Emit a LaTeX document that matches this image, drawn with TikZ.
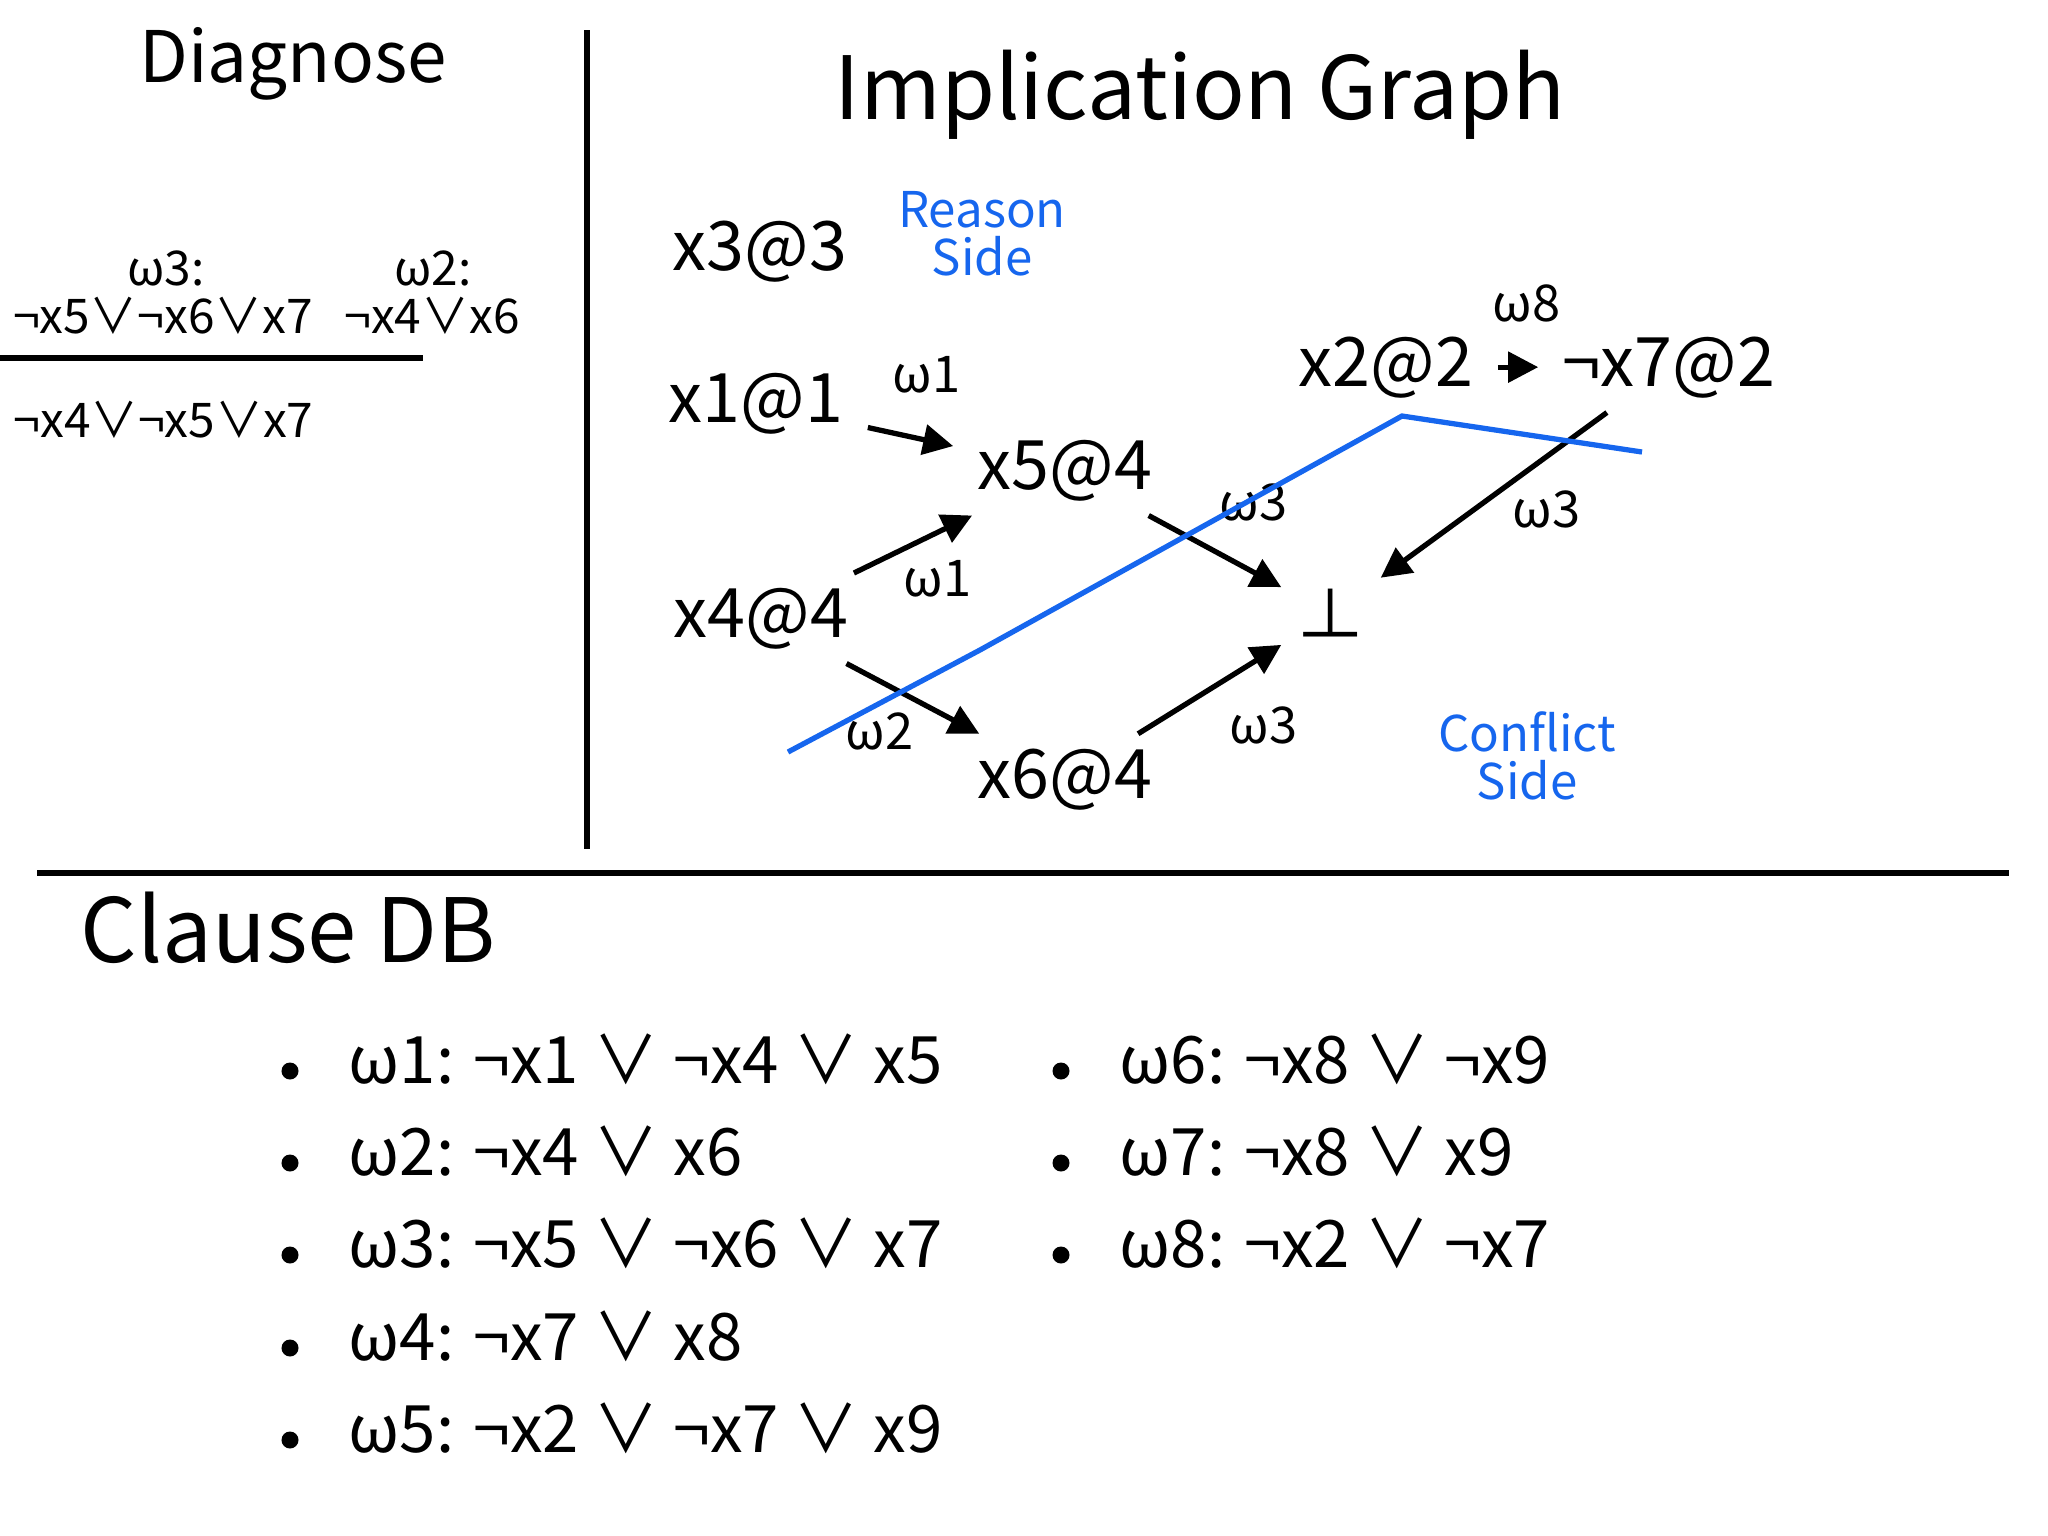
\documentclass[tikz,border=0pt]{standalone}
\usepackage{fontspec}
\setmainfont{Noto Sans CJK JP}
\usetikzlibrary{arrows.meta}
\definecolor{cutblue}{RGB}{22,102,238}
\begin{document}
\begin{tikzpicture}
	[x=0.01cm,y=-0.01cm,
	lit/.style={anchor=base,inner xsep=0.24cm,inner ysep=0.14cm,font=\fontsize{19.4}{23}\selectfont},
	wlab/.style={anchor=base west,inner sep=0,font=\fontsize{14.4}{17}\selectfont},
	side/.style={anchor=base,align=center,text=cutblue,inner sep=0,font=\fontsize{14}{13.4}\selectfont},
	dtxt/.style={anchor=base,inner sep=0,font=\fontsize{13.6}{16}\selectfont},
	clause/.style={anchor=base west,inner sep=0,font=\fontsize{18.6}{22}\selectfont},
	imp/.style={line width=1.5pt,-{Triangle[length=0.3cm,width=0.3cm]}},
	rule/.style={line width=1.7pt},
	cut/.style={cutblue,line width=1.5pt},]
	\useasboundingbox (0,0) rectangle (2048,1536);
	\node[anchor=base,inner sep=0,font=\fontsize{20.2}{24}\selectfont](diag) at (293,82){Diagnose};
	\node[dtxt](w3d) at (166,285){ω3:};
	\node[dtxt](w2d) at (433,285){ω2:};
	\node[dtxt](c3d) at (163,333){¬x5∨¬x6∨x7};
	\node[dtxt](c2d) at (432,333){¬x4∨x6};
	\draw[rule](0,358)--(423,358);
	\node[dtxt,anchor=base west](res) at (13,437){¬x4∨¬x5∨x7};
	\draw[rule](587,30)--(587,849);
	\draw[rule](37,873)--(2009,873);
	\node[anchor=base,inner sep=0,font=\fontsize{24.8}{30}\selectfont](title) at (1200,119){Implication Graph};
	\node[lit](x3) at (760,270){x3@3};
	\node[lit](x1) at (756,422){x1@1};
	\node[lit](x4) at (761,637){x4@4};
	\node[lit](x5) at (1065,489){x5@4};
	\node[lit](x6) at (1065,798){x6@4};
	\node[lit](x2) at (1386,386){x2@2};
	\node[lit](nx7) at (1669,386){¬x7@2};
	\node[minimum width=0.98cm,minimum height=0.8cm,inner sep=0,font=\fontsize{19.4}{23}\selectfont](bot) at (1331,614){⊥};
	\node[side](reason) at (982,275){Reason\\Side};
	\node[side](conflict) at (1527,799){Conflict\\Side};
	\draw[imp](x1)--(x5);
	\draw[imp](x4)--(x5);
	\draw[imp](x4)--(x6);
	\draw[imp](x5)--(bot);
	\draw[imp](x6)--(bot);
	\draw[imp](x2)--(nx7);
	\draw[imp](nx7)--(bot);
	\node[wlab](w1a) at (892,392){ω1};
	\node[wlab](w1b) at (903,596){ω1};
	\node[wlab](w2) at (845,749){ω2};
	\node[wlab](w3a) at (1219,520){ω3};
	\node[wlab](w3b) at (1229,743){ω3};
	\node[wlab](w8) at (1492,321){ω8};
	\node[wlab](w3c) at (1512,527){ω3};
	\draw[cut](788,752)--(980,650)--(1402,416)--(1642,452);
	\node[anchor=base west,inner sep=0,font=\fontsize{25.2}{30}\selectfont](db) at (80,962){Clause DB};
	\foreach \i/\x/\y/\t in {1/348/1083/{ω1: ¬x1 ∨ ¬x4 ∨ x5},2/348/1175/{ω2: ¬x4 ∨ x6},3/348/1267/{ω3: ¬x5 ∨ ¬x6 ∨ x7},4/348/1360/{ω4: ¬x7 ∨ x8},5/348/1452/{ω5: ¬x2 ∨ ¬x7 ∨ x9},6/1119/1083/{ω6: ¬x8 ∨ ¬x9},7/1119/1175/{ω7: ¬x8 ∨ x9},8/1119/1267/{ω8: ¬x2 ∨ ¬x7}}
	{
		\fill(\x-58,\y-12) circle[radius=0.085cm];
		\node[clause](cl\i) at (\x,\y){\t};
	}
\end{tikzpicture}
\end{document}
